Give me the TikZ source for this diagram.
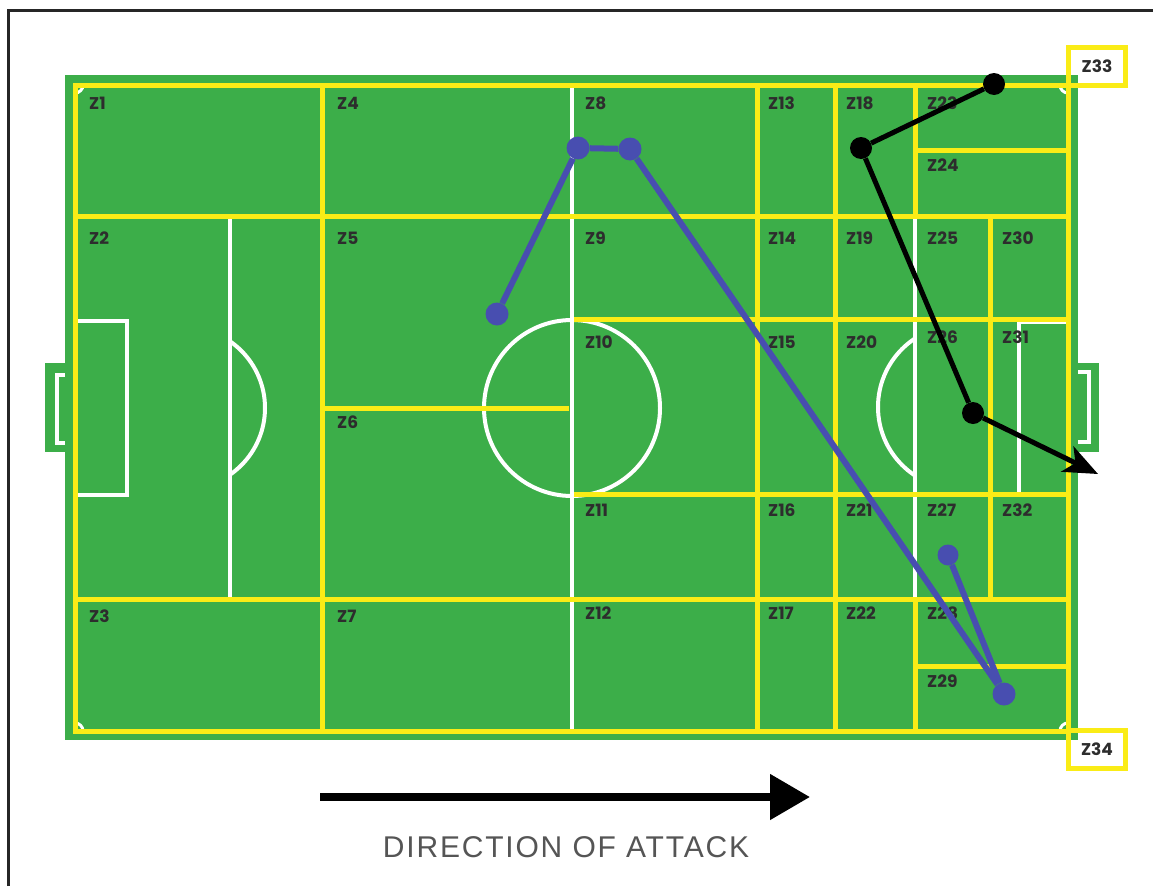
\documentclass[tikz,border=0pt]{standalone}
\usepackage{fontspec}
\newfontfamily\zfont{Poppins}[BoldFont={* Bold}]
\newfontfamily\dfont[LetterSpace=6]{Liberation Sans}
\usetikzlibrary{arrows.meta}
\definecolor{pitch}{RGB}{60,174,73}
\definecolor{zy}{RGB}{250,236,22}
\definecolor{pathblue}{RGB}{72,78,176}
\definecolor{lab}{RGB}{45,45,45}
\definecolor{dirgray}{RGB}{85,85,85}
\begin{document}
\begin{tikzpicture}[x=1pt,y=-1pt,
  wline/.style={white, line width=4pt},
  yline/.style={zy, line width=5pt},
  zlab/.style={anchor=west, inner sep=0pt, text=lab, font=\zfont\bfseries\fontsize{17}{17}\selectfont},
  zbox/.style={draw=zy, line width=5pt, minimum width=57pt, minimum height=38pt, inner sep=0pt, text=lab, font=\zfont\bfseries\fontsize{17}{17}\selectfont},
  bdot/.style={circle, fill=pathblue, minimum size=23pt, inner sep=0pt},
  kdot/.style={circle, fill=black, minimum size=22pt, inner sep=0pt},
  bpath/.style={pathblue, line width=6pt},
  kpath/.style={black, line width=5pt},
  dirtext/.style={text=dirgray, inner sep=0pt, font=\dfont\fontsize{30}{30}\selectfont}
]
\useasboundingbox (0,0) rectangle (1153,886);
\fill[white] (0,0) rectangle (1153,886);
\draw[line width=3pt, black!85] (8,886) -- (8,10) -- (1153,10);

% goals
\fill[pitch] (45,363) rectangle (70,452);
\draw[wline] (75,375) -- (57,375) -- (57,443) -- (75,443);
\fill[pitch] (1074,363) rectangle (1099,452);
\draw[wline] (1068,372) -- (1089,372) -- (1089,442) -- (1068,442);
% field
\fill[pitch] (65,75) rectangle (1078,740);

% white markings
\draw[wline] (75,321) -- (127,321) -- (127,495) -- (75,495);
\draw[wline] (230,216) -- (230,599);
\begin{scope}
  \clip (230,0) rectangle (400,886);
  \draw[wline] (184,408) circle[radius=81pt];
\end{scope}
\draw[wline] (572,85) -- (572,731);
\draw[wline] (572,408) circle[radius=88pt];
\draw[wline] (915,216) -- (915,599);
\begin{scope}
  \clip (700,0) rectangle (915,886);
  \draw[wline] (960,407) circle[radius=82pt];
\end{scope}
\draw[wline] (1068,322) -- (1019,322) -- (1019,494) -- (1068,494);
\begin{scope}
  \clip (75,85) rectangle (1068,731);
  \draw[white, line width=3pt] (75,85) circle[radius=8pt];
  \draw[white, line width=3pt] (1068,85) circle[radius=8pt];
  \draw[white, line width=3pt] (75,731) circle[radius=8pt];
  \draw[white, line width=3pt] (1068,731) circle[radius=8pt];
\end{scope}

% yellow zone lines
\draw[yline] (75,85) rectangle (1068,731);
\draw[yline] (75,216) -- (1068,216);
\draw[yline] (75,599) -- (1068,599);
\draw[yline] (574,319) -- (1068,319);
\draw[yline] (574,494) -- (1068,494);
\draw[yline] (322,408) -- (569,408);
\draw[yline] (915,150) -- (1068,150);
\draw[yline] (915,666) -- (1068,666);
\draw[yline] (322,85) -- (322,731);
\draw[yline] (757,85) -- (757,731);
\draw[yline] (835,85) -- (835,731);
\draw[yline] (915,85) -- (915,216);
\draw[yline] (915,599) -- (915,731);
\draw[yline] (990,216) -- (990,599);

% zone labels
\node[zlab] (z1) at (89,103) {Z1};
\node[zlab] (z4) at (337,103) {Z4};
\node[zlab] (z8) at (585,103) {Z8};
\node[zlab] (z13) at (768,103) {Z13};
\node[zlab] (z18) at (846,103) {Z18};
\node[zlab] (z23) at (927,103) {Z23};
\node[zlab] (z24) at (927,165) {Z24};
\node[zlab] (z2) at (89,238) {Z2};
\node[zlab] (z5) at (337,238) {Z5};
\node[zlab] (z9) at (585,238) {Z9};
\node[zlab] (z14) at (768,238) {Z14};
\node[zlab] (z19) at (846,238) {Z19};
\node[zlab] (z25) at (927,238) {Z25};
\node[zlab] (z30) at (1002,238) {Z30};
\node[zlab] (z10) at (585,342) {Z10};
\node[zlab] (z15) at (768,342) {Z15};
\node[zlab] (z20) at (846,342) {Z20};
\node[zlab] (z26) at (927,337) {Z26};
\node[zlab] (z31) at (1002,337) {Z31};
\node[zlab] (z6) at (337,422) {Z6};
\node[zlab] (z11) at (585,510) {Z11};
\node[zlab] (z16) at (768,510) {Z16};
\node[zlab] (z21) at (846,510) {Z21};
\node[zlab] (z27) at (927,510) {Z27};
\node[zlab] (z32) at (1002,510) {Z32};
\node[zlab] (z3) at (89,616) {Z3};
\node[zlab] (z7) at (337,616) {Z7};
\node[zlab] (z12) at (585,613) {Z12};
\node[zlab] (z17) at (768,613) {Z17};
\node[zlab] (z22) at (846,613) {Z22};
\node[zlab] (z28) at (927,613) {Z28};
\node[zlab] (z29) at (927,681) {Z29};
\node[zbox] (z33) at (1097,66.5) {Z33};
\node[zbox] (z34) at (1097,749) {Z34};

% blue move
\node[bdot] (b1) at (497,314) {};
\node[bdot] (b2) at (578,148) {};
\node[bdot] (b3) at (630,149) {};
\node[bdot] (b4) at (1004,694) {};
\node[bdot, minimum size=21pt] (b5) at (948,555) {};
\draw[bpath] (b1) -- (b2) -- (b3) -- (b4) -- (b5);

% black move
\node[kdot] (k1) at (994,84) {};
\node[kdot] (k2) at (861,148) {};
\node[kdot] (k3) at (973,413) {};
\coordinate (ktip) at (1098,474);
\draw[kpath] (k1) -- (k2) -- (k3);
\draw[kpath, -{Stealth[length=34pt,width=28pt,inset=9pt]}] (k3) -- (ktip);

% direction of attack
\coordinate (dirS) at (320,797);
\coordinate (dirE) at (810,797);
\draw[line width=8pt, -{Triangle[length=40pt,width=44pt]}] (dirS) -- (dirE);
\node[dirtext] (dir) at (566,847) {DIRECTION OF ATTACK};
\end{tikzpicture}
\end{document}
